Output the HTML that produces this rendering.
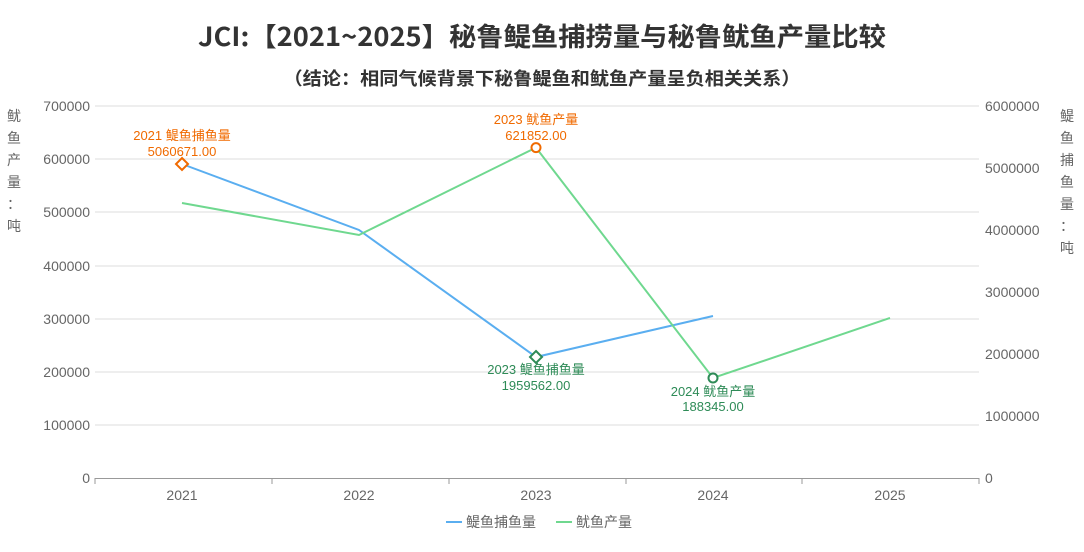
<!DOCTYPE html>
<html><head><meta charset="utf-8"><style>
body{margin:0;background:#fff;width:1084px;height:547px;overflow:hidden}
text{font-family:"Liberation Sans","Noto Sans CJK SC",sans-serif}
.cjk{font-family:"Noto Sans CJK SC",sans-serif}
</style></head><body>
<svg width="1084" height="547" viewBox="0 0 1084 547">
<text x="542" y="46" text-anchor="middle" font-size="26" font-weight="bold" fill="#333" class="cjk" textLength="688" lengthAdjust="spacingAndGlyphs">JCI:【2021~2025】秘鲁鳀鱼捕捞量与秘鲁鱿鱼产量比较</text>
<text x="542" y="85" text-anchor="middle" font-size="18" font-weight="bold" fill="#333" class="cjk" textLength="517" lengthAdjust="spacingAndGlyphs">（结论：相同气候背景下秘鲁鳀鱼和鱿鱼产量呈负相关关系）</text>
<g stroke="#ddd" stroke-width="1">
<line x1="95" x2="979" y1="106" y2="106"/><line x1="95" x2="979" y1="159" y2="159"/><line x1="95" x2="979" y1="212" y2="212"/><line x1="95" x2="979" y1="266" y2="266"/><line x1="95" x2="979" y1="319" y2="319"/><line x1="95" x2="979" y1="372" y2="372"/><line x1="95" x2="979" y1="425" y2="425"/>
</g>
<line x1="95" x2="979" y1="478.5" y2="478.5" stroke="#999"/>
<g stroke="#999"><line x1="95" x2="95" y1="478" y2="484"/><line x1="272" x2="272" y1="478" y2="484"/><line x1="449" x2="449" y1="478" y2="484"/><line x1="626" x2="626" y1="478" y2="484"/><line x1="802" x2="802" y1="478" y2="484"/><line x1="979" x2="979" y1="478" y2="484"/></g>
<g font-size="14" fill="#666" text-anchor="end">
<text x="90" y="111">700000</text><text x="90" y="164">600000</text><text x="90" y="217">500000</text><text x="90" y="271">400000</text><text x="90" y="324">300000</text><text x="90" y="377">200000</text><text x="90" y="430">100000</text><text x="90" y="483">0</text>
</g>
<g font-size="14" fill="#666">
<text x="985" y="111">6000000</text><text x="985" y="173">5000000</text><text x="985" y="235">4000000</text><text x="985" y="297">3000000</text><text x="985" y="359">2000000</text><text x="985" y="421">1000000</text><text x="985" y="483">0</text>
</g>
<g font-size="14" fill="#666" text-anchor="middle">
<text x="182" y="500">2021</text><text x="359" y="500">2022</text><text x="536" y="500">2023</text><text x="713" y="500">2024</text><text x="890" y="500">2025</text>
</g>
<g font-size="14" fill="#666" text-anchor="middle">
<text x="14" y="121">鱿</text><text x="14" y="143">鱼</text><text x="14" y="165">产</text><text x="14" y="187">量</text><text x="14" y="209">：</text><text x="14" y="231">吨</text>
<text x="1067" y="121">鳀</text><text x="1067" y="143">鱼</text><text x="1067" y="165">捕</text><text x="1067" y="187">鱼</text><text x="1067" y="209">量</text><text x="1067" y="231">：</text><text x="1067" y="253">吨</text>
</g>
<polyline points="182,164 359,230 536,357 713,316" fill="none" stroke="#5aaef0" stroke-width="2"/>
<polyline points="182,203 359,235 536,147.6 713,378 890,318" fill="none" stroke="#6fd88f" stroke-width="2"/>
<polygon points="182,158 188,164 182,170 176,164" fill="#fff" stroke="#f06a00" stroke-width="2"/>
<circle cx="536" cy="147.6" r="4.5" fill="#fff" stroke="#f06a00" stroke-width="2"/>
<polygon points="536,351 542,357 536,363 530,357" fill="#fff" stroke="#2e8b57" stroke-width="2"/>
<circle cx="713" cy="378" r="4.5" fill="#fff" stroke="#2e8b57" stroke-width="2"/>
<g font-size="13" text-anchor="middle" fill="#f06a00">
<text x="182" y="140">2021  鳀鱼捕鱼量</text><text x="182" y="156">5060671.00</text>
<text x="536" y="124">2023  鱿鱼产量</text><text x="536" y="140">621852.00</text>
</g>
<g font-size="13" text-anchor="middle" fill="#2e8b57">
<text x="536" y="374">2023  鳀鱼捕鱼量</text><text x="536" y="390">1959562.00</text>
<text x="713" y="396">2024  鱿鱼产量</text><text x="713" y="411">188345.00</text>
</g>
<line x1="446" x2="462" y1="522" y2="522" stroke="#5aaef0" stroke-width="2"/>
<text x="466" y="527" font-size="14" fill="#666">鳀鱼捕鱼量</text>
<line x1="556" x2="572" y1="522" y2="522" stroke="#6fd88f" stroke-width="2"/>
<text x="576" y="527" font-size="14" fill="#666">鱿鱼产量</text>
</svg>
</body></html>
